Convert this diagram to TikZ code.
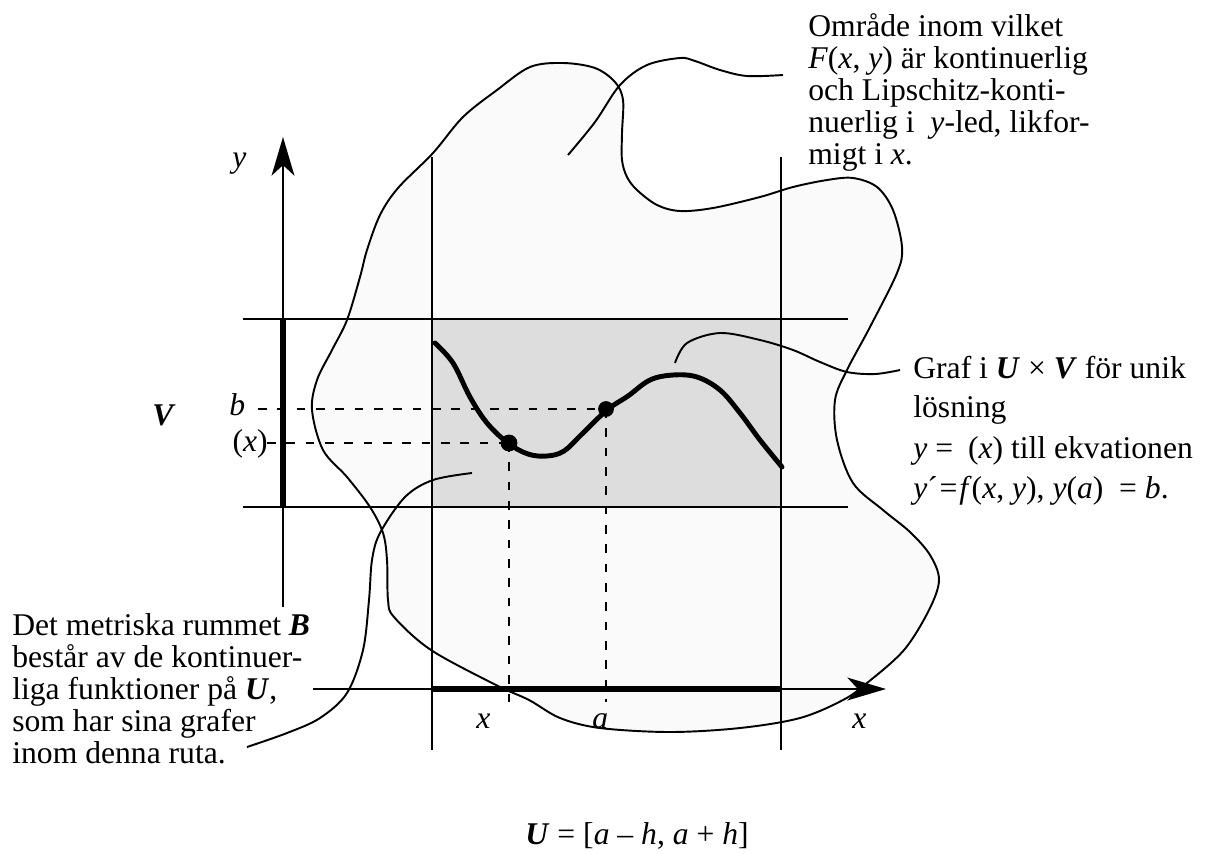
\documentclass[tikz,border=0pt]{standalone}
\usepackage{fontspec}
\setmainfont{Liberation Serif}
\usetikzlibrary{arrows.meta}
\definecolor{blobgray}{HTML}{FAFAFA}
\definecolor{boxgray}{HTML}{DDDDDD}
\newcommand{\bi}[1]{\textbf{\textit{#1}}}
\begin{document}
\begin{tikzpicture}[x=0.02cm,y=-0.02cm,
  ln/.style={line width=1.1pt},
  thickseg/.style={line width=3.6pt},
  graphline/.style={line width=2.8pt, line cap=round},
  dsh/.style={line width=1.1pt, dash pattern=on 5pt off 6pt},
  lbl/.style={inner sep=0pt, anchor=base west, font=\fontsize{18}{18}\selectfont},
  arr/.style={-{Stealth[length=22pt,width=13pt,inset=6pt]}}]
\useasboundingbox (0,0) rectangle (1219,853);

% region (blob)
\draw[ln, fill=blobgray] plot[smooth cycle, tension=0.55] coordinates {
(312,410) (317,380) (332,350) (347,320) (360,277) (367,250) (380,215) (398,188)
(433,153) (463,117) (497,90) (530,67) (563,63) (595,68) (615,82) (623,100)
(622,133) (622,160) (627,177) (637,190) (657,205) (680,211) (713,208) (760,197)
(793,187) (827,180) (853,178) (877,187) (893,210) (902,247) (897,273) (870,327)
(847,370) (835,400) (837,440) (853,483) (883,510) (910,532) (930,555) (939,580)
(929,610) (904,650) (867,683) (843,700) (800,718) (740,728) (670,732) (600,728)
(560,718) (529,700) (496,685) (431,650) (394,617) (388,600) (387,560) (383,533)
(370,507) (347,477) (323,450)};

% box U x V
\fill[boxgray] (432,319) rectangle (781,507);

% coordinates
\coordinate (L1) at (432,157); \coordinate (L2) at (432,750);
\coordinate (R1) at (781,157); \coordinate (R2) at (781,750);
\coordinate (T1) at (243,319); \coordinate (T2) at (848,319);
\coordinate (B1) at (243,507); \coordinate (B2) at (848,507);
\coordinate (Y0) at (283,607); \coordinate (Y1) at (283,137);
\coordinate (X0) at (313,689); \coordinate (X1) at (886,689);
\coordinate (P) at (509,443); \coordinate (Q) at (606,409);

\draw[ln] (L1) -- (L2);
\draw[ln] (R1) -- (R2);
\draw[ln] (T1) -- (T2);
\draw[ln] (B1) -- (B2);

% axes
\draw[ln, arr] (Y0) -- (Y1);
\draw[ln, arr] (X0) -- (X1);
\draw[thickseg] (283,319) -- (283,507);
\draw[thickseg] (432,689) -- (781,689);

% dashed projections
\draw[dsh] (258,409) -- (Q);
\draw[dsh] (267,443) -- (P);
\draw[dsh] (P) -- (509,702);
\draw[dsh] (Q) -- (606,702);

% graph of solution
\draw[graphline] plot[smooth, tension=0.6] coordinates {
(435,343) (453,363) (470,397) (487,423) (508,443) (528,454) (547,456) (564,451)
(582,434) (607,410) (628,396) (650,380) (673,375) (697,377) (720,390) (740,413)
(760,440) (782,467)};
\fill (P) circle[radius=4.8pt];
\fill (Q) circle[radius=4.5pt];

% leaders
\draw[ln] plot[smooth, tension=0.55] coordinates {
(568,155) (595,122) (620,85) (647,65) (680,58) (695,61) (720,70) (747,76) (783,75)};
\draw[ln] plot[smooth, tension=0.55] coordinates {
(675,363) (687,343) (720,333) (760,340) (793,350) (820,362) (847,372) (875,374) (900,370)};
\draw[ln] plot[smooth, tension=0.55] coordinates {
(472,473) (433,480) (405,497) (380,533) (372,560) (369,600) (363,650) (347,693)
(320,718) (287,733) (247,747)};

% labels
\node[lbl] (ly) at (232,167) {\textit{y}};
\node[lbl] (lx) at (852,728) {\textit{x}};
\node[lbl] (lxx) at (476,728) {\textit{x}};
\node[lbl] (la) at (592,728) {\textit{a}};
\node[lbl] (lV) at (152,425) {\bi{V}};
\node[lbl] (lb) at (229,415) {\textit{b}};
\node[lbl, anchor=base east] (lphi) at (268,451) {(\textit{x})};

% top-right text
\node[lbl] (t1) at (808,36) {Område inom vilket};
\node[lbl] (t2) at (808,68) {\textit{F}(\textit{x}, \textit{y}) är kontinuerlig};
\node[lbl] (t3) at (808,100) {och Lipschitz-konti-};
\node[lbl] (t4) at (808,132) {nuerlig i \ \textit{y}-led, likfor-};
\node[lbl] (t5) at (808,164) {migt i \textit{x}.};

% right text
\node[lbl] (g1) at (913,378) {Graf i \bi{U} × \bi{V} för unik};
\node[lbl] (g2) at (913,417) {lösning};
\node[lbl] (g3) at (913,458) {\textit{y} =\hspace{0.47em}(\textit{x}) till ekvationen};
\node[lbl] (g4) at (913,498) {\textit{y}´\kern1pt=\kern1pt\textit{f}(\textit{x}, \textit{y}), \textit{y}(\textit{a})\ \ = \textit{b}.};

% bottom-left text
\node[lbl] (d1) at (12,635) {Det metriska rummet \bi{B}};
\node[lbl] (d2) at (12,667) {består av de kontinuer-};
\node[lbl] (d3) at (12,699) {liga funktioner på \bi{U},};
\node[lbl] (d4) at (12,731) {som har sina grafer};
\node[lbl] (d5) at (12,763) {inom denna ruta.};

% bottom formula
\node[lbl, anchor=base] (uf) at (637,844) {\bi{U} = [\textit{a} – \textit{h}, \textit{a} + \textit{h}]};
\end{tikzpicture}
\end{document}
